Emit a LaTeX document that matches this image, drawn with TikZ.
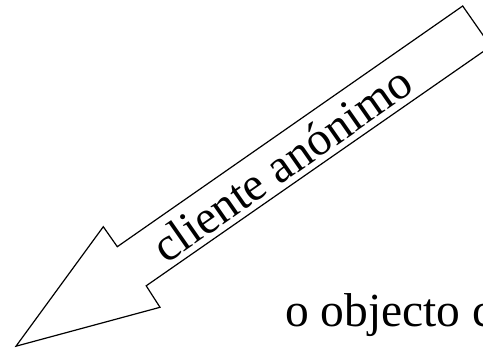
\documentclass[tikz,border=0pt]{standalone}
\usepackage{fontspec}
\setmainfont{Liberation Serif}
\begin{document}
\begin{tikzpicture}[x=1pt,y=-1pt,
  arrowshape/.style={draw=black,line width=1.2pt,line join=miter,fill=white},
  bigtext/.style={inner sep=0pt,font=\fontsize{47.5}{52}\selectfont}]
\useasboundingbox (0,0) rectangle (483,349);
\clip (0,0) rectangle (483,349);
\coordinate (A) at (462.7,6);
\coordinate (B) at (490.8,46.3);
\coordinate (C) at (146.2,285.8);
\coordinate (D) at (160,307.3);
\coordinate (E) at (16,346.2);
\coordinate (F) at (103.3,226.7);
\coordinate (G) at (117.3,246.7);
\draw[arrowshape] (A) -- (B) -- (C) -- (D) -- (E) -- (F) -- (G) -- cycle;
\node[bigtext,rotate=34.9] (lbl) at (282,164) {cliente anónimo};
\node[bigtext,anchor=base west] (obj) at (285,326.7) {o objecto c};
\end{tikzpicture}
\end{document}
